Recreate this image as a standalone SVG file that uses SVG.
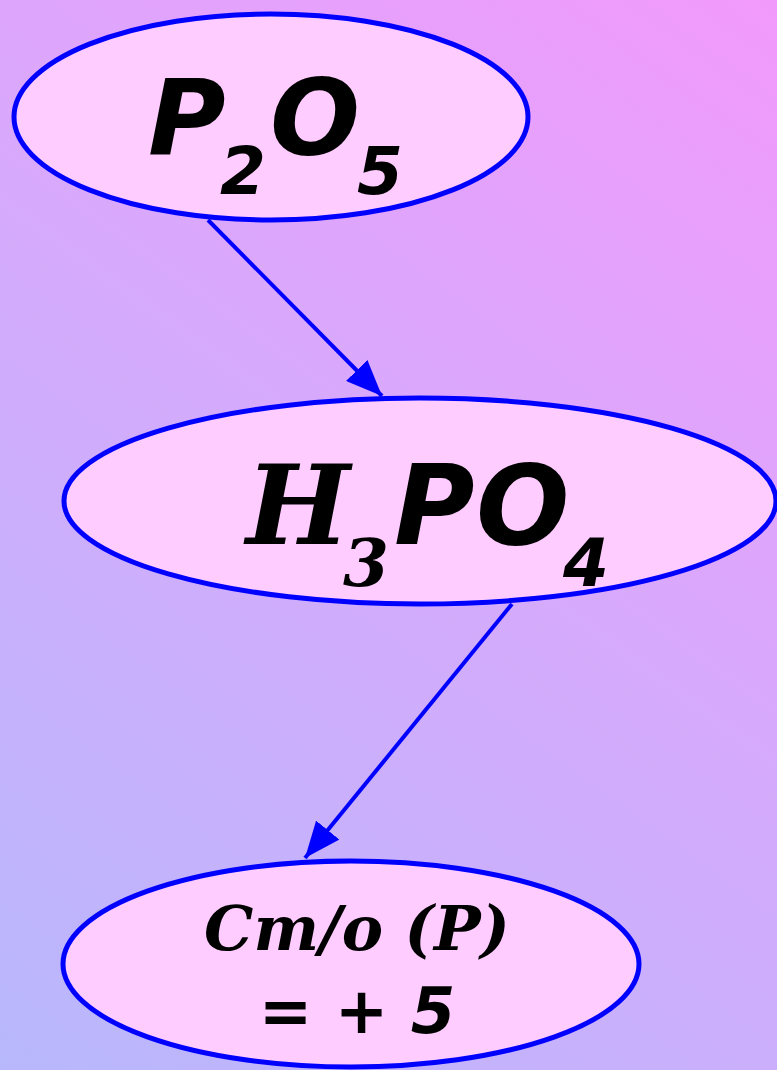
<svg xmlns="http://www.w3.org/2000/svg" width="777" height="1070" viewBox="0 0 777 1070">
<defs>
<linearGradient id="bg" x1="0" y1="1070" x2="777" y2="0" gradientUnits="userSpaceOnUse">
<stop offset="0" stop-color="#b8b8fc"/>
<stop offset="0.5" stop-color="#d4abfc"/>
<stop offset="1" stop-color="#f29afc"/>
</linearGradient>
<marker id="arr" viewBox="0 0 12 10" refX="12" refY="5" markerWidth="36" markerHeight="30" markerUnits="userSpaceOnUse" orient="auto">
<path d="M0,0 L12,5 L0,10 Z" fill="#0000ff"/>
</marker>
</defs>
<style>
.node{fill:#ffccff;stroke:#0000ff;stroke-width:5}
.edge{stroke:#0000ff;stroke-width:4;fill:none}
.s{font-family:"DejaVu Sans","Liberation Sans",sans-serif;font-weight:bold;font-style:italic;fill:#000}
.r{font-family:"DejaVu Serif","Liberation Serif",serif;font-weight:bold;font-style:italic;fill:#000}
</style>
<rect width="777" height="1070" fill="url(#bg)"/>
<g id="connectors">
<line class="edge" x1="208" y1="220" x2="382" y2="396" marker-end="url(#arr)"/>
<line class="edge" x1="512" y1="604" x2="305" y2="858" marker-end="url(#arr)"/>
</g>
<g id="node-p2o5">
<ellipse class="node" cx="271" cy="117" rx="257" ry="103"/>
<text class="s" x="148" y="155" font-size="106">P</text>
<text class="s" x="220" y="194" font-size="66">2</text>
<text class="s" x="270" y="155" font-size="106">O</text>
<text class="s" x="357" y="194" font-size="66">5</text>
</g>
<g id="node-h3po4">
<ellipse class="node" cx="420" cy="501" rx="356" ry="103"/>
<text class="r" x="246" y="544" font-size="110">H</text>
<text class="r" x="343" y="586" font-size="66">3</text>
<text class="s" x="394" y="544" font-size="110">P</text>
<text class="s" x="476" y="544" font-size="110">O</text>
<text class="s" x="563" y="586" font-size="66">4</text>
</g>
<g id="node-result">
<ellipse class="node" cx="351" cy="964" rx="288" ry="103"/>
<text class="r" x="357" y="950" font-size="62" text-anchor="middle">Cm/o (P)</text>
<text class="s" x="357" y="1033" font-size="64" text-anchor="middle">= + 5</text>
</g>
</svg>
